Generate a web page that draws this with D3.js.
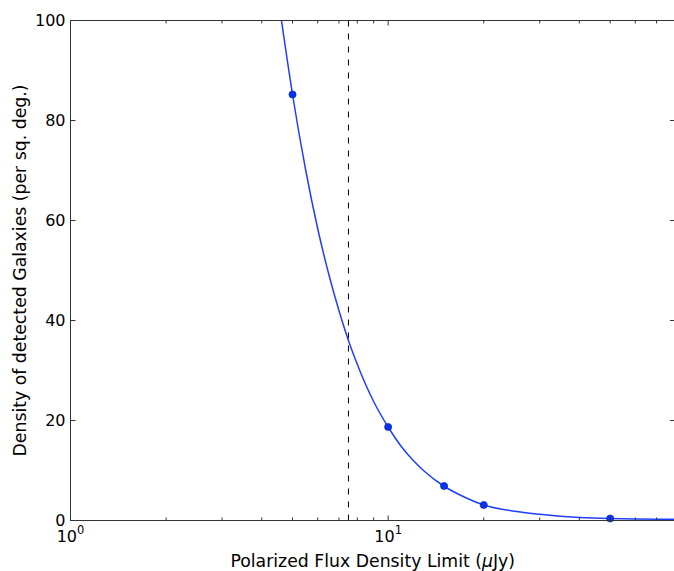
<!DOCTYPE html>
<html>
<head>
<meta charset="utf-8">
<script src="https://cdn.jsdelivr.net/npm/d3@7"></script>
<style>
  body { margin: 0; background: #fff; }
  text { font-family: "DejaVu Sans", sans-serif; }
</style>
</head>
<body>
<div id="chart"></div>
<script>
// measured survey points
const fluxLimits = [5, 10, 15, 20, 50];
const densities = [85.2, 18.7, 6.9, 3.1, 0.4];

// fitted curve
const fitFlux = [4.615, 5.0, 5.5, 6, 6.5, 7, 7.5, 8, 9, 10, 11, 12, 13, 15, 17.5, 20, 25, 30, 40, 50, 60, 70, 80];
const fitDensity = [100, 85.2, 70.1, 58.4, 49.3, 42.0, 36.0, 31.2, 23.8, 18.7, 14.8, 12.0, 9.85, 6.85, 4.6, 3.1, 1.85, 1.25, 0.6, 0.38, 0.3, 0.26, 0.24];

const cutoff = 7.5;

const xMajor = [1, 10];
const xMinor = [2, 3, 4, 5, 6, 7, 8, 9, 20, 30, 40, 50, 60, 70];
const yTicks = [0, 20, 40, 60, 80, 100];

const xLabel = "Polarized Flux Density Limit (";
const yLabel = "Density of detected Galaxies (per sq. deg.)";

const width = 674, height = 571;
const margin = { top: 20.5, left: 70.5 };
const plotRight = 675, plotBottom = 520.5;

const svg = d3.select("#chart").append("svg")
  .attr("width", width)
  .attr("height", height);

const x = d3.scaleLog().domain([1, 80]).range([margin.left, plotRight]);
const y = d3.scaleLinear().domain([0, 100]).range([plotBottom, margin.top]);

svg.append("clipPath").attr("id", "plotClip")
  .append("rect")
  .attr("x", margin.left).attr("y", margin.top)
  .attr("width", plotRight - margin.left)
  .attr("height", plotBottom - margin.top);

// vertical cutoff line
svg.append("line")
  .attr("x1", x(cutoff)).attr("x2", x(cutoff))
  .attr("y1", margin.top).attr("y2", plotBottom)
  .attr("stroke", "#000")
  .attr("stroke-width", 1)
  .attr("stroke-dasharray", "6,7");

// fit curve
const fit = fitFlux.map((f, i) => [f, fitDensity[i]]);
const line = d3.line()
  .x(d => x(d[0]))
  .y(d => y(d[1]))
  .curve(d3.curveMonotoneX);

svg.append("path")
  .datum(fit)
  .attr("clip-path", "url(#plotClip)")
  .attr("fill", "none")
  .attr("stroke", "#1f3fff")
  .attr("stroke-width", 1.5)
  .attr("d", line);

// data points
svg.append("g")
  .selectAll("circle")
  .data(fluxLimits)
  .join("circle")
  .attr("cx", d => x(d))
  .attr("cy", (d, i) => y(densities[i]))
  .attr("r", 3.6)
  .attr("fill", "#0a33f0")
  .attr("stroke", "#0020a0")
  .attr("stroke-width", 0.6);

// ticks (inward, on all four sides)
function tickLines(g, vals, pos, len, horizontal, base, dir) {
  g.selectAll(null)
    .data(vals)
    .join("line")
    .attr("x1", d => horizontal ? pos(d) : base)
    .attr("x2", d => horizontal ? pos(d) : base + dir * len)
    .attr("y1", d => horizontal ? base : pos(d))
    .attr("y2", d => horizontal ? base + dir * len : pos(d))
    .attr("stroke", "#333")
    .attr("stroke-width", 1);
}

const ticks = svg.append("g");
tickLines(ticks, xMajor, x, 5, true, plotBottom, -1);
tickLines(ticks, xMinor, x, 3, true, plotBottom, -1);
tickLines(ticks, xMajor, x, 5, true, margin.top, 1);
tickLines(ticks, xMinor, x, 3, true, margin.top, 1);
tickLines(ticks, yTicks, y, 5, false, margin.left, 1);
tickLines(ticks, yTicks, y, 5, false, plotRight, -1);

// spines
svg.append("rect")
  .attr("x", margin.left).attr("y", margin.top)
  .attr("width", plotRight - margin.left)
  .attr("height", plotBottom - margin.top)
  .attr("fill", "none")
  .attr("stroke", "#333")
  .attr("stroke-width", 1);

// y tick labels
svg.append("g")
  .selectAll("text")
  .data(yTicks)
  .join("text")
  .attr("x", margin.left - 5)
  .attr("y", d => y(d))
  .attr("dy", "0.36em")
  .attr("text-anchor", "end")
  .attr("font-size", 16)
  .text(d => d);

// x tick labels as powers of ten
const xt = svg.append("g")
  .selectAll("text")
  .data(xMajor)
  .join("text")
  .attr("x", d => x(d))
  .attr("y", 542)
  .attr("text-anchor", "middle")
  .attr("font-size", 16);
xt.append("tspan").text("10");
xt.append("tspan")
  .attr("font-size", 11.5)
  .attr("dy", -8)
  .text(d => Math.round(Math.log10(d)));

// axis labels
const xl = svg.append("text")
  .attr("x", (margin.left + plotRight) / 2)
  .attr("y", 566.5)
  .attr("text-anchor", "middle")
  .attr("font-size", 17.3);
xl.append("tspan").text(xLabel);
xl.append("tspan").attr("font-style", "italic").text("\u03bc");
xl.append("tspan").text("Jy)");

svg.append("text")
  .attr("transform", `translate(26,${(margin.top + plotBottom) / 2}) rotate(-90)`)
  .attr("text-anchor", "middle")
  .attr("font-size", 17.3)
  .text(yLabel);
</script>
</body>
</html>
